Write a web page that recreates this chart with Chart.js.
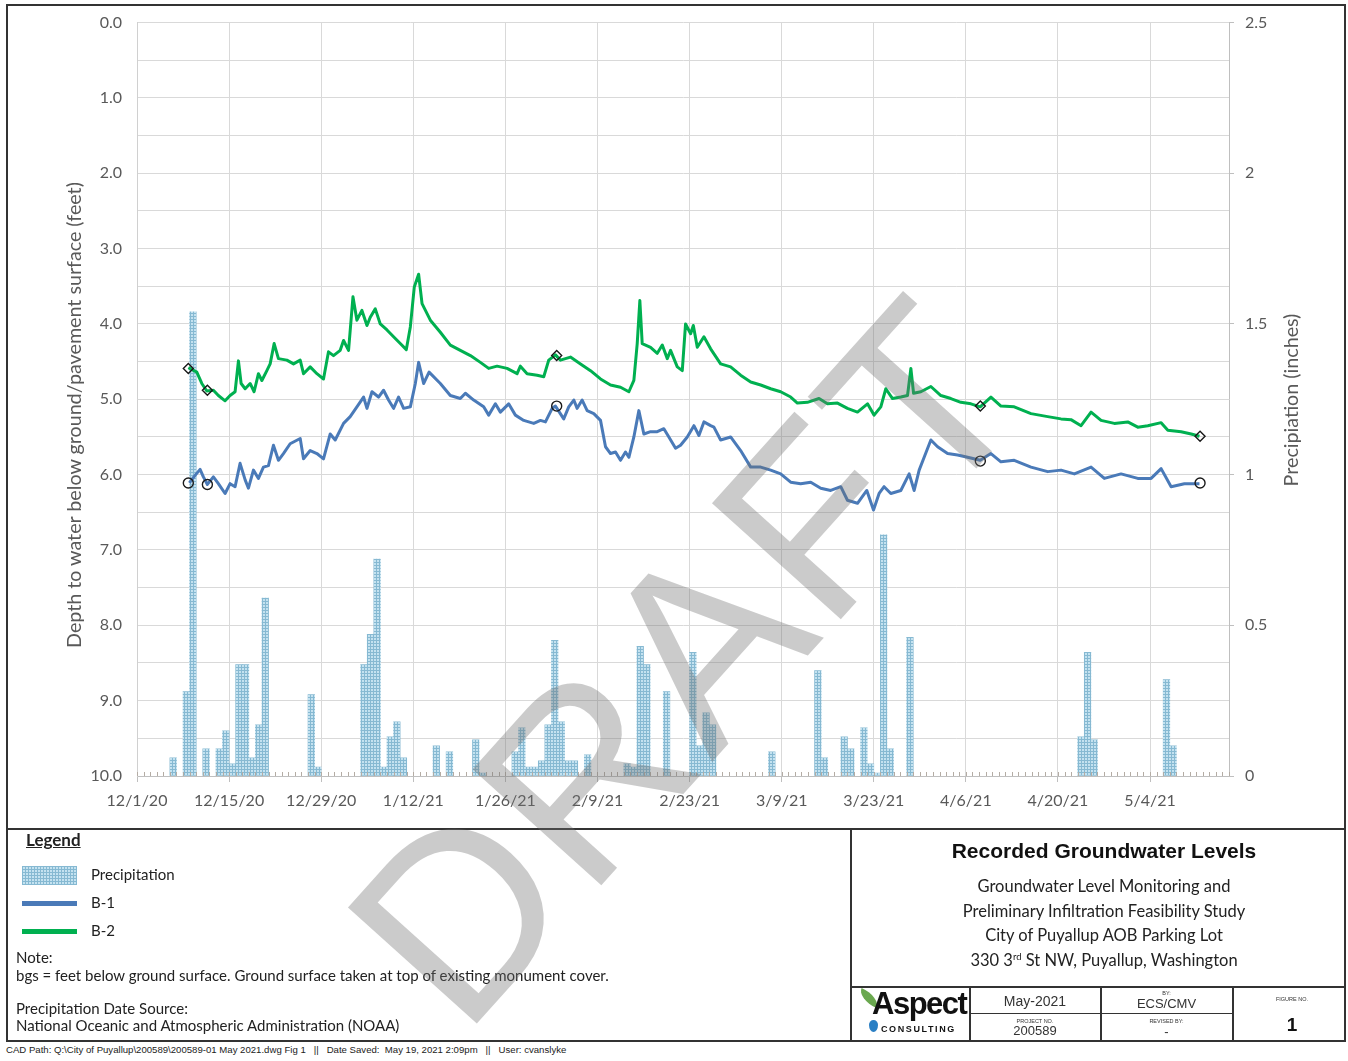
<!DOCTYPE html>
<html><head><meta charset="utf-8">
<script src="https://cdn.jsdelivr.net/npm/chart.js@4.4.1/dist/chart.umd.min.js"></script>
<style>
body{margin:0;background:#fff;width:1348px;height:1061px;position:relative;overflow:hidden;font-family:Lato,"Noto Sans",sans-serif;color:#222;}
.a{position:absolute;white-space:nowrap;}
.hl{position:absolute;height:0;border-top:2px solid #333;}
.vl{position:absolute;width:0;border-left:2px solid #333;}
.c{text-align:center;}
.tiny{font-family:"Liberation Sans",sans-serif;font-size:5.5px;line-height:6px;color:#333;}
.cell{font-family:"Liberation Sans",sans-serif;color:#333;}
.ax{position:absolute;white-space:nowrap;font-size:19.7px;color:#595959;transform:translate(-50%,-50%) rotate(-90deg);}
.lg{font-size:15px;line-height:17px;}
</style></head>
<body>
<canvas id="cv" class="a" style="left:7px;top:-2px;" width="1338" height="830"></canvas>
<div class="a" style="left:6px;top:4px;width:1340px;height:1038px;box-sizing:border-box;border:2px solid #333;"></div>
<div class="hl" style="left:6px;top:828px;width:1340px;"></div>
<div class="vl" style="left:850px;top:828px;height:214px;"></div>
<div class="hl" style="left:850px;top:986px;width:496px;"></div>
<div class="vl" style="left:969px;top:986px;height:56px;"></div>
<div class="vl" style="left:1100px;top:986px;height:56px;"></div>
<div class="vl" style="left:1232px;top:986px;height:56px;"></div>
<div class="hl" style="left:969px;top:1013px;width:264px;border-top-width:1.5px;"></div>

<div class="ax" style="left:73px;top:415px;">Depth to water below ground/pavement surface (feet)</div>
<div class="ax" style="left:1290px;top:400px;">Precipiation (inches)</div>

<!-- legend box -->
<div class="a" style="left:26px;top:829px;font-weight:bold;font-size:17px;text-decoration:underline;">Legend</div>
<div class="a" style="left:22px;top:866px;width:55px;height:19px;background-color:#c4e2f0;background-image:linear-gradient(#86b9d2 1px,transparent 1px),linear-gradient(90deg,#86b9d2 1px,transparent 1px);background-size:3px 3px;"></div>
<div class="a lg" style="left:91px;top:866px;">Precipitation</div>
<div class="a" style="left:22px;top:901px;width:55px;height:5px;background:#4a7ab8;"></div>
<div class="a lg" style="left:91px;top:894px;">B-1</div>
<div class="a" style="left:22px;top:929px;width:55px;height:5px;background:#00b050;"></div>
<div class="a lg" style="left:91px;top:922px;">B-2</div>
<div class="a lg" style="left:16px;top:949px;">Note:</div>
<div class="a lg" style="left:16px;top:967px;">bgs = feet below ground surface. Ground surface taken at top of existing monument cover.</div>
<div class="a lg" style="left:16px;top:1000px;">Precipitation Date Source:</div>
<div class="a lg" style="left:16px;top:1017px;">National Oceanic and Atmospheric Administration (NOAA)</div>

<!-- title block -->
<div class="a c" style="left:854px;width:500px;top:838px;font-family:'Liberation Sans',sans-serif;font-weight:bold;font-size:21px;line-height:25px;color:#111;">Recorded Groundwater Levels</div>
<div class="a c" style="left:854px;width:500px;top:874px;font-size:16.5px;line-height:24.7px;white-space:normal;">Groundwater Level Monitoring and<br>Preliminary Infiltration Feasibility Study<br>City of Puyallup AOB Parking Lot<br>330 3<sup style="font-size:9.5px;line-height:0;">rd</sup> St NW, Puyallup, Washington</div>

<!-- logo -->
<div class="a" style="left:858px;top:992px;width:22px;height:12px;background:#6aa84f;border-radius:0 100% 0 100%;transform:rotate(25deg);"></div>
<div class="a" style="left:872px;top:987px;font-family:'Liberation Sans',sans-serif;font-weight:bold;font-size:31px;line-height:34px;letter-spacing:-1.5px;color:#111;">Aspect</div>
<div class="a" style="left:869px;top:1020px;width:9px;height:12px;background:#2a7fc4;border-radius:50% 50% 50% 50% / 40% 40% 60% 60%;"></div>
<div class="a" style="left:881px;top:1024px;font-family:'Liberation Sans',sans-serif;font-weight:bold;font-size:9px;line-height:10px;letter-spacing:1.6px;color:#111;">CONSULTING</div>

<div class="a c cell" style="left:970px;width:130px;top:993px;font-size:14px;line-height:16px;">May-2021</div>
<div class="a c tiny" style="left:970px;width:130px;top:1018px;">PROJECT NO.</div>
<div class="a c cell" style="left:970px;width:130px;top:1024px;font-size:13px;line-height:14px;">200589</div>
<div class="a c tiny" style="left:1101px;width:131px;top:990px;">BY:</div>
<div class="a c cell" style="left:1101px;width:131px;top:997px;font-size:13px;line-height:14px;">ECS/CMV</div>
<div class="a c tiny" style="left:1101px;width:131px;top:1018px;">REVISED BY:</div>
<div class="a c cell" style="left:1101px;width:131px;top:1025px;font-size:13px;line-height:14px;">-</div>
<div class="a c tiny" style="left:1234px;width:116px;top:996px;">FIGURE NO.</div>
<div class="a c cell" style="left:1234px;width:116px;top:1014px;font-size:19px;line-height:22px;font-weight:bold;color:#111;">1</div>

<div class="a" style="left:6px;top:1044px;font-family:'Liberation Sans',sans-serif;font-size:9.6px;line-height:11px;white-space:pre;color:#222;">CAD Path: Q:\City of Puyallup\200589\200589-01 May 2021.dwg Fig 1   ||   Date Saved:  May 19, 2021 2:09pm   ||   User: cvanslyke</div>

<div class="a" style="left:686px;top:661px;transform:translate(-50%,-50%) rotate(-48deg);font-family:'Liberation Sans',sans-serif;font-size:252px;line-height:1;letter-spacing:4px;color:rgba(110,110,110,0.36);pointer-events:none;">DRAFT</div>

<script>
// ---- data ----
const xTickDays = [0,14,28,42,56,70,84,98,112,126,140,154];
const xTickLabels = ['12/1/20','12/15/20','12/29/20','1/12/21','1/26/21','2/9/21','2/23/21','3/9/21','3/23/21','4/6/21','4/20/21','5/4/21'];
// days after 12/1/2020
const precipDays = [5,7,8,10,12,13,14,15,16,17,18,19,26,27,34,35,36,37,38,39,40,45,47,51,52,57,58,59,60,61,62,63,64,65,66,68,74,75,76,77,80,84,85,86,87,96,103,104,107,108,110,111,112,113,114,117,143,144,145,156,157];
const precipInches = [0.06,0.28,1.54,0.09,0.09,0.15,0.04,0.37,0.37,0.06,0.17,0.59,0.27,0.03,0.37,0.47,0.72,0.03,0.13,0.18,0.06,0.10,0.08,0.12,0.01,0.08,0.16,0.03,0.03,0.05,0.17,0.45,0.18,0.05,0.05,0.07,0.04,0.03,0.43,0.37,0.28,0.41,0.10,0.21,0.17,0.08,0.35,0.06,0.13,0.09,0.16,0.04,0.01,0.80,0.09,0.46,0.13,0.41,0.12,0.32,0.10];

const b1Days = [7.96,8.83,9.59,10.09,10.70,11.61,12.37,13.39,14.15,14.91,
15.67,16.44,16.94,17.70,18.46,19.22,19.98,20.74,21.50,22.26,
23.28,24.81,25.31,26.33,27.35,28.35,29.37,30.13,31.40,32.41,
33.43,34.44,34.96,35.72,36.72,37.48,38.24,39.00,39.76,40.53,
41.55,42.31,42.81,43.57,44.40,46.11,47.63,49.15,49.92,51.18,
52.70,53.46,54.48,55.24,56.50,57.52,58.79,60.31,61.33,62.09,
63.11,63.61,64.87,65.63,66.40,66.91,67.67,68.43,69.44,70.46,
71.22,71.98,72.74,73.50,74.26,74.77,75.53,76.29,77.05,78.07,
79.09,80.09,80.85,81.87,82.63,83.65,84.66,85.42,86.18,87.20,
87.70,88.72,90.24,91.76,93.29,94.81,96.33,97.85,99.37,100.89,
102.42,103.94,105.46,106.98,108.00,109.52,110.94,111.96,112.81,113.57,
114.59,116.11,117.38,118.14,118.90,119.66,120.68,121.70,123.22,124.74,
126.26,128.18,129.81,131.33,133.35,135.90,138.44,140.46,142.49,145.03,
147.05,149.59,152.13,154.16,155.68,157.20,159.22,161.51];
const b1Depth = [6.11,6.01,5.93,6.03,6.13,6.03,6.12,6.25,6.12,6.16,
5.85,6.07,6.18,5.94,6.05,5.90,5.88,5.61,5.81,5.72,
5.59,5.52,5.79,5.68,5.72,5.79,5.46,5.54,5.32,5.23,
5.10,4.97,5.12,4.90,4.97,4.88,5.01,5.12,4.97,5.12,
5.10,4.79,4.51,4.79,4.64,4.79,4.95,4.99,4.92,5.01,
5.10,5.21,5.06,5.17,5.06,5.21,5.28,5.32,5.28,5.30,
5.12,5.09,5.26,5.10,5.01,5.12,5.01,5.15,5.19,5.28,
5.63,5.72,5.70,5.81,5.70,5.77,5.50,5.15,5.46,5.43,
5.43,5.39,5.50,5.65,5.61,5.50,5.35,5.48,5.30,5.35,
5.37,5.54,5.50,5.68,5.90,5.90,5.94,5.99,6.10,6.12,
6.10,6.18,6.21,6.16,6.34,6.38,6.21,6.47,6.25,6.16,
6.25,6.21,5.99,6.21,5.94,5.77,5.54,5.63,5.72,5.74,
5.77,5.81,5.72,5.83,5.81,5.90,5.96,5.94,5.99,5.90,
6.05,5.99,6.05,6.05,5.92,6.16,6.12,6.12];

const b2Days = [7.81,9.09,9.85,10.61,11.61,12.37,13.39,14.15,14.91,15.42,
15.83,16.44,17.20,17.80,18.46,18.98,19.74,20.24,20.85,21.50,
22.78,23.79,24.81,25.31,26.33,27.35,28.35,29.11,29.87,30.89,
31.40,32.16,32.83,33.43,34.19,34.96,35.46,36.22,36.98,38.00,
39.00,40.02,40.94,41.55,42.15,42.81,43.33,44.59,46.11,47.63,
49.15,50.68,52.20,53.46,54.74,56.26,57.78,58.28,59.30,60.83,
61.83,62.59,63.61,64.37,65.89,67.42,68.94,70.46,71.98,73.50,
74.77,75.53,76.04,76.44,76.80,78.07,79.09,79.85,80.61,81.11,
82.13,82.89,83.39,84.16,84.57,85.17,86.18,87.20,88.72,90.24,
91.76,93.29,94.81,96.33,97.85,99.37,100.39,101.91,103.68,104.96,
106.48,108.00,109.52,111.05,112.05,113.07,113.83,114.85,116.11,117.13,
117.64,118.05,119.16,120.68,122.20,123.72,125.24,126.77,128.18,129.81,
131.33,133.35,135.90,138.44,140.46,141.98,143.51,145.03,146.55,148.57,
150.61,152.13,153.66,155.68,156.70,158.72,160.25,161.51];
const b2Depth = [4.58,4.64,4.79,4.89,4.88,4.95,5.02,4.95,4.90,4.49,
4.79,4.86,4.79,4.90,4.66,4.75,4.62,4.53,4.26,4.46,
4.48,4.53,4.48,4.66,4.57,4.66,4.73,4.37,4.42,4.35,
4.22,4.35,3.64,3.95,3.82,4.02,3.91,3.80,4.00,4.08,
4.17,4.26,4.34,4.04,3.51,3.34,3.73,3.95,4.11,4.28,
4.35,4.42,4.51,4.59,4.56,4.59,4.66,4.56,4.66,4.68,
4.70,4.48,4.41,4.48,4.44,4.53,4.62,4.73,4.81,4.84,
4.90,4.75,4.26,3.69,4.26,4.31,4.39,4.28,4.46,4.35,
4.57,4.62,4.00,4.13,4.02,4.31,4.17,4.33,4.53,4.57,
4.68,4.77,4.81,4.86,4.90,4.97,5.05,5.04,4.99,5.06,
5.05,5.12,5.17,5.06,5.21,5.10,4.86,4.99,4.97,4.95,
4.59,4.92,4.90,4.83,4.95,4.99,5.04,5.06,5.10,4.97,
5.09,5.10,5.19,5.23,5.26,5.27,5.35,5.17,5.28,5.32,
5.30,5.37,5.35,5.31,5.41,5.43,5.46,5.49];

const b1ManualDays = [7.8,10.7,63.8,128.2,161.6];
const b1ManualDepth = [6.11,6.13,5.09,5.82,6.11];
const b2ManualDays = [7.8,10.7,63.8,128.2,161.6];
const b2ManualDepth = [4.59,4.88,4.42,5.09,5.49];

// ---- build ----
function pairs(xs, ys){ const n=Math.min(xs.length, ys.length); const out=[]; for(let i=0;i<n;i++) out.push({x:xs[i], y:ys[i]}); return out; }

function makePattern(ctx){
  const c=document.createElement('canvas'); c.width=3; c.height=3;
  const g=c.getContext('2d');
  g.fillStyle='#c4e2f0'; g.fillRect(0,0,3,3);
  g.fillStyle='#86b9d2'; g.fillRect(0,0,3,1); g.fillRect(0,0,1,3);
  return ctx.createPattern(c,'repeat');
}

const tickFont = {family:'Lato', size:16};
const tickColor = '#595959';

const minorTicks = {
  id:'minorTicks',
  afterDatasetsDraw(chart){
    const xs=chart.scales.x, a=chart.chartArea, ctx=chart.ctx;
    ctx.save(); ctx.strokeStyle='#b4aca4'; ctx.lineWidth=1; ctx.beginPath();
    for(let d=Math.ceil(xs.min); d<=xs.max; d++){
      const px=Math.round(xs.getPixelForValue(d))+0.5;
      ctx.moveTo(px,a.bottom); ctx.lineTo(px,a.bottom-4);
    }
    ctx.stroke(); ctx.restore();
  }
};

const cv=document.getElementById('cv');
const ctx=cv.getContext('2d');
new Chart(ctx,{
  type:'line',
  data:{datasets:[
    {type:'bar', label:'Precipitation', data:pairs(precipDays.map(d=>d+0.5), precipInches), yAxisID:'y2',
     backgroundColor:makePattern(ctx), borderWidth:0, barPercentage:1, categoryPercentage:1, order:3},
    {label:'B-1', data:pairs(b1Days,b1Depth), yAxisID:'y', borderColor:'#4a7ab8', borderWidth:3, pointRadius:0, tension:0, borderJoinStyle:'round', order:2},
    {label:'B-2', data:pairs(b2Days,b2Depth), yAxisID:'y', borderColor:'#00b050', borderWidth:3, pointRadius:0, tension:0, borderJoinStyle:'round', order:2},
    {label:'B-1 manual', data:pairs(b1ManualDays,b1ManualDepth), yAxisID:'y', showLine:false, pointStyle:'circle', pointRadius:5,
     pointBorderColor:'#1a1a1a', pointBackgroundColor:'rgba(0,0,0,0)', pointBorderWidth:1.4, order:1},
    {label:'B-2 manual', data:pairs(b2ManualDays,b2ManualDepth), yAxisID:'y', showLine:false, pointStyle:'rectRot', pointRadius:5,
     pointBorderColor:'#1a1a1a', pointBackgroundColor:'rgba(0,0,0,0)', pointBorderWidth:1.4, order:1}
  ]},
  options:{
    responsive:false, animation:false, events:[],
    layout:{padding:{top:10,left:0,right:0,bottom:0}},
    plugins:{legend:{display:false}, tooltip:{enabled:false}},
    scales:{
      x:{type:'linear', min:0, max:166, offset:false,
         afterBuildTicks:(ax)=>{ ax.ticks = xTickDays.map(v=>({value:v})); },
         ticks:{autoSkip:false, maxRotation:0, padding:9, color:tickColor, font:tickFont,
                callback:(v)=>{ const i=xTickDays.indexOf(v); return i>=0 ? xTickLabels[i] : ''; }},
         grid:{color:'#d9d9d9', tickLength:6, tickColor:'#bfbfbf', offset:false},
         border:{color:'#bfbfbf'},
         afterFit:(s)=>{ s.height=52; }},
      y:{position:'left', min:0, max:10, reverse:true,
         ticks:{stepSize:0.5, padding:15, color:tickColor, font:tickFont,
                callback:(v)=> Math.abs(v-Math.round(v))<1e-6 ? Number(v).toFixed(1) : ''},
         grid:{color:'#d9d9d9', drawTicks:false},
         border:{color:'#d0d0d0'},
         afterFit:(s)=>{ s.width=130; }},
      y2:{position:'right', min:0, max:2.5,
         ticks:{stepSize:0.5, padding:11, color:tickColor, font:tickFont,
                callback:(v)=> String(Math.round(v*10)/10)},
         grid:{drawOnChartArea:false, tickLength:5, tickColor:'#bfbfbf'},
         border:{color:'#bfbfbf'},
         afterFit:(s)=>{ s.width=116; }}
    }
  },
  plugins:[minorTicks]
});
</script>
</body></html>
